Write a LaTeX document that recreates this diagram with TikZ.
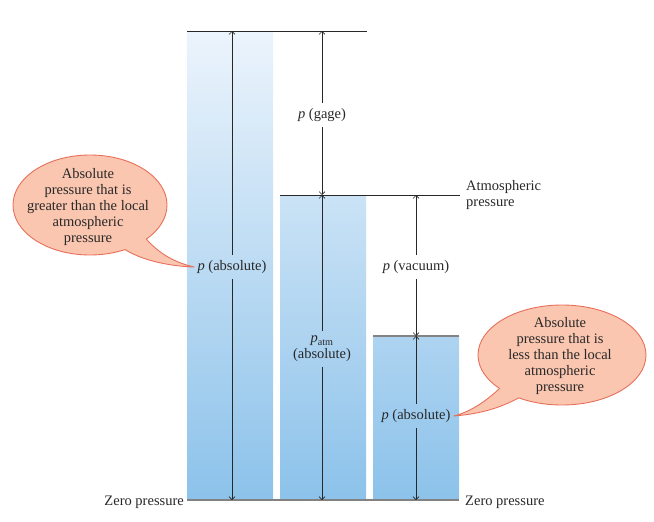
\documentclass[tikz,border=0pt]{standalone}
\usepackage{fontspec}
\setmainfont{Liberation Serif}
\usetikzlibrary{arrows.meta,calc}
\definecolor{barTop}{RGB}{236,244,252}
\definecolor{barBot}{RGB}{140,194,234}
\definecolor{bubFill}{RGB}{250,198,176}
\definecolor{bubLine}{RGB}{232,112,90}
\definecolor{ink}{RGB}{40,40,40}
\definecolor{refgray}{RGB}{130,130,130}
\begin{document}
\begin{tikzpicture}[x=1pt,y=-1pt,
  txt/.style={font=\fontsize{14.5}{16}\selectfont, text=ink, inner sep=0pt},
  lbl/.style={txt, inner ysep=5pt, inner xsep=1pt},
  dim/.style={draw=ink, line width=0.6pt, -{Straight Barb[length=3pt,width=6pt]}},
  darkline/.style={draw=ink, line width=0.7pt},
  grayline/.style={draw=refgray, line width=1.1pt},
  zeroline/.style={draw=refgray, line width=1.8pt},
  bubble/.style={fill=bubFill, draw=bubLine, line width=0.9pt},
  tailfill/.style={fill=bubFill},
  tailline/.style={draw=bubLine, line width=0.9pt}]
\useasboundingbox (0,0) rectangle (654,522);
% bars with one common vertical gradient
\begin{scope}
  \clip (187,31) rectangle (273,500) (280,195) rectangle (366,500) (373,336) rectangle (459,500);
  \shade[top color=barTop, bottom color=barBot] (187,31) rectangle (459,500);
\end{scope}
% reference lines
\draw[darkline] (187,31) -- (367,31);
\draw[darkline] (280,195) -- (460,195);
\draw[grayline] (373,336) -- (459,336);
\draw[zeroline] (187,500) -- (459,500);
% dimension end points
\coordinate (t1) at (232,31);
\coordinate (z1) at (232,500);
\coordinate (t2) at (322,31);
\coordinate (a2) at (322,195);
\coordinate (z2) at (322,500);
\coordinate (a3) at (416,195);
\coordinate (m3) at (416,336);
\coordinate (z3) at (416,500);
% labels
\node[lbl] (L1) at (232,267) {\textit{p} (absolute)};
\node[lbl] (G2) at (322,115) {\textit{p} (gage)};
\node[lbl, align=center] (A2) at (322,349) {\textit{p}\textsubscript{atm}\\(absolute)};
\node[lbl] (V3) at (416,267) {\textit{p} (vacuum)};
\node[lbl] (B3) at (416,416) {\textit{p} (absolute)};
% dimension arrows
\draw[dim] (L1.north) -- (t1);
\draw[dim] (L1.south) -- (z1);
\draw[dim] (G2.north) -- (t2);
\draw[dim] (G2.south) -- (a2);
\draw[dim] (A2.north) -- (a2);
\draw[dim] (A2.south) -- (z2);
\draw[dim] (V3.north) -- (a3);
\draw[dim] (V3.south) -- (m3);
\draw[dim] (B3.north) -- (m3);
\draw[dim] (B3.south) -- (z3);
% side texts
\node[txt, anchor=base east] (zl) at (184,505) {Zero pressure};
\node[txt, anchor=base west] (zr) at (465,505) {Zero pressure};
\node[txt, anchor=west, align=left] (atm) at (466,195) {Atmospheric\\pressure};
% left callout
\coordinate (lc) at (90,205);
\path[bubble] (lc) ellipse [x radius=77, y radius=50];
\coordinate (lu) at ($(lc)+(43:77 and 50)$);
\coordinate (ll) at ($(lc)+(63:77 and 50)$);
\coordinate (ltip) at ($(L1.west)+(-2,0)$);
\fill[tailfill] (lc) -- (lu) .. controls (158,252) and (172,262) .. (ltip)
  .. controls (165,266) and (140,259) .. (ll) -- cycle;
\draw[tailline] (lu) .. controls (158,252) and (172,262) .. (ltip)
  .. controls (165,266) and (140,259) .. (ll);
\node[txt, align=center] (lt) at (88,207) {Absolute\\pressure that is\\greater than the local\\atmospheric\\pressure};
% right callout
\coordinate (rc) at (562,355);
\path[bubble] (rc) ellipse [x radius=84, y radius=50];
\coordinate (ru) at ($(rc)+(138:84 and 50)$);
\coordinate (rl) at ($(rc)+(121:84 and 50)$);
\coordinate (rtip) at ($(B3.east)+(2,0)$);
\fill[tailfill] (rc) -- (ru) .. controls (485,402) and (470,412) .. (rtip)
  .. controls (480,414) and (500,408) .. (rl) -- cycle;
\draw[tailline] (ru) .. controls (485,402) and (470,412) .. (rtip)
  .. controls (480,414) and (500,408) .. (rl);
\node[txt, align=center] (rt) at (560,356) {Absolute\\pressure that is\\less than the local\\atmospheric\\pressure};
\end{tikzpicture}
\end{document}
